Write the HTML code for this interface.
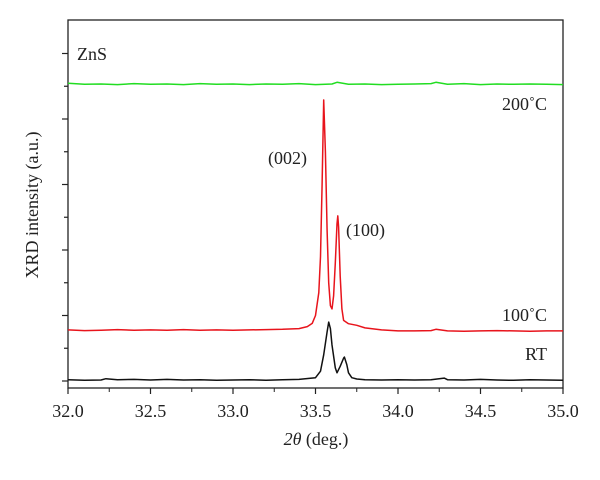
<!DOCTYPE html>
<html><head><meta charset="utf-8"><style>
body{margin:0;background:#fff}
svg text{font-family:"Liberation Serif",serif;fill:#222}
</style></head><body>
<svg id="chart" width="600" height="475" viewBox="0 0 600 475" xmlns="http://www.w3.org/2000/svg">
<g id="axes"></g><g id="series"></g>
<text x="77" y="60" font-size="18">ZnS</text>
<text x="547" y="110" font-size="18" text-anchor="end">200˚C</text>
<text x="547" y="321" font-size="18" text-anchor="end">100˚C</text>
<text x="547" y="360" font-size="18" text-anchor="end">RT</text>
<text x="268" y="164" font-size="18">(002)</text>
<text x="346" y="236" font-size="18">(100)</text>
<text x="316" y="445" font-size="18" text-anchor="middle"><tspan font-style="italic">2θ</tspan> (deg.)</text>
<text transform="translate(38,205) rotate(-90)" font-size="18" text-anchor="middle">XRD intensity (a.u.)</text>
</svg>
<script>
const xTicks=[32.0,32.5,33.0,33.5,34.0,34.5,35.0];
const xTickLabels=["32.0","32.5","33.0","33.5","34.0","34.5","35.0"];
const yTicks=[0,1,2,3,4,5,6,7,8,9,10];
const greenX=[32.0,32.1,32.2,32.3,32.4,32.5,32.6,32.7,32.8,32.9,33.0,33.1,33.2,33.3,33.4,33.5,33.6,33.63,33.7,33.8,33.9,34.0,34.1,34.2,34.23,34.3,34.4,34.5,34.6,34.7,34.8,34.9,35.0];
const greenY=[9.09,9.06,9.07,9.05,9.08,9.06,9.07,9.05,9.08,9.06,9.07,9.05,9.07,9.06,9.08,9.05,9.07,9.12,9.06,9.07,9.05,9.06,9.07,9.08,9.12,9.06,9.08,9.05,9.07,9.06,9.07,9.06,9.05];
const redX=[32.0,32.1,32.2,32.3,32.4,32.5,32.6,32.7,32.8,32.9,33.0,33.1,33.2,33.3,33.4,33.45,33.48,33.5,33.52,33.53,33.54,33.55,33.56,33.57,33.58,33.59,33.6,33.61,33.62,33.63,33.635,33.64,33.65,33.66,33.67,33.7,33.75,33.8,33.9,34.0,34.1,34.2,34.23,34.3,34.4,34.5,34.6,34.7,34.8,34.9,35.0];
const redY=[1.56,1.54,1.55,1.57,1.55,1.56,1.55,1.57,1.55,1.56,1.55,1.56,1.57,1.58,1.6,1.66,1.76,2.0,2.7,3.8,6.0,8.58,7.0,4.6,3.0,2.3,2.2,2.6,3.6,4.8,5.04,4.7,3.2,2.2,1.85,1.75,1.7,1.62,1.56,1.53,1.53,1.54,1.58,1.53,1.52,1.53,1.54,1.53,1.52,1.53,1.53];
const blackX=[32.0,32.1,32.2,32.23,32.3,32.4,32.5,32.6,32.7,32.8,32.9,33.0,33.1,33.2,33.3,33.4,33.5,33.53,33.55,33.57,33.58,33.59,33.6,33.62,33.63,33.65,33.67,33.675,33.69,33.7,33.72,33.75,33.8,33.9,34.0,34.1,34.2,34.28,34.3,34.4,34.5,34.6,34.7,34.8,34.9,35.0];
const blackY=[0.04,0.02,0.03,0.07,0.04,0.05,0.03,0.05,0.03,0.04,0.02,0.03,0.04,0.02,0.04,0.05,0.1,0.3,0.8,1.5,1.8,1.6,1.1,0.4,0.25,0.45,0.7,0.73,0.5,0.25,0.1,0.06,0.04,0.03,0.04,0.03,0.04,0.09,0.04,0.03,0.05,0.03,0.02,0.04,0.03,0.02];
const L=68,R=563,T=20,B=388;
const sx=v=>L+(v-32)/3*(R-L);
const sy=v=>381-v*32.75;
const NS="http://www.w3.org/2000/svg";
function mk(tag,attrs,parent){const e=document.createElementNS(NS,tag);for(const k in attrs)e.setAttribute(k,attrs[k]);parent.appendChild(e);return e;}
const ax=document.getElementById('axes');
const frame=mk('rect',{x:L,y:T,width:R-L,height:B-T,fill:'none',stroke:'#222','stroke-width':1.3},ax);


xTicks.forEach((v,i)=>{
  const t=mk('line',{x1:sx(v),x2:sx(v),y1:B,y2:B+6,stroke:'#222','stroke-width':1.2},ax);
  
  
  if(i<xTicks.length-1){
    const m=mk('line',{x1:sx(v+0.25),x2:sx(v+0.25),y1:B,y2:B+4,stroke:'#222','stroke-width':1},ax);
    
    
  }
  const lb=mk('text',{x:sx(v),y:B+29,'font-size':18,'text-anchor':'middle'},ax);
  lb.textContent=xTickLabels[i];
  
  
});
yTicks.forEach(v=>{
  const len=v%2===0?6:4;
  const t=mk('line',{x1:L-len,x2:L,y1:sy(v),y2:sy(v),stroke:'#222','stroke-width':1.2},ax);
  
  
});
const sg=document.getElementById('series');
function draw(xs,ys,color,name){
  const d=xs.map((x,i)=>(i?'L':'M')+sx(x).toFixed(1)+','+sy(ys[i]).toFixed(1)).join('');
  const p=mk('path',{d:d,fill:'none',stroke:color,'stroke-width':1.5,'stroke-linejoin':'round'},sg);
  
  
}
draw(greenX,greenY,'#22dd22','series-200c');
draw(redX,redY,'#e8141c','series-100c');
draw(blackX,blackY,'#111','series-rt');
</script>
</body></html>
